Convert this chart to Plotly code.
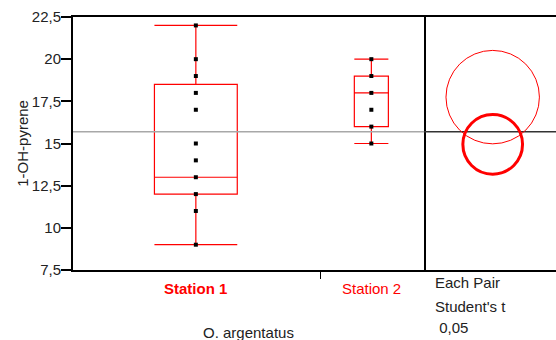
import plotly.graph_objects as go

# Observations per station (1-OH-pyrene)
station1_values = [22, 20, 19, 18, 17, 15, 14, 13, 12, 11, 9]
station2_values = [20, 19, 18, 17, 16, 15]

# Quantile box summaries: lower whisker, q1, median, q3, upper whisker
station1_box = [9, 12, 13, 18.5, 22]
station2_box = [15, 16, 18, 19, 20]

stations = ["Station 1", "Station 2"]
station_pos = [0.35, 0.85]      # group centres on the x axis
box_widths = [0.236, 0.097]     # group widths on the x axis
group_tick = [0.706]            # divider tick between groups

grand_mean = 15.7

# Comparison circles (Student's t, alpha 0.05): centre and radius
circle_means = [14.95, 17.75]
circle_radii = [1.77, 2.77]
circle_line_widths = [3, 1]

y_ticks = [7.5, 10, 12.5, 15, 17.5, 20, 22.5]
y_tick_text = ["7,5", "10", "12,5", "15", "17,5", "20", "22,5"]

FONT = "Liberation Sans, Arial, sans-serif"
RED = "#ff0000"
TXT = "#222222"
split = 351 / 483

fig = go.Figure()

for name, pos, w, box, vals in zip(stations, station_pos, box_widths,
                                   [station1_box, station2_box],
                                   [station1_values, station2_values]):
    fig.add_trace(go.Box(
        x=[pos], lowerfence=[box[0]], q1=[box[1]], median=[box[2]],
        q3=[box[3]], upperfence=[box[4]], width=w, whiskerwidth=1,
        fillcolor="rgba(0,0,0,0)", line=dict(color=RED, width=1.2),
        boxpoints=False, name=name, showlegend=False, hoverinfo="skip",
    ))
    fig.add_trace(go.Scatter(
        x=[pos] * len(vals), y=vals, mode="markers",
        marker=dict(symbol="square", size=4, color="black"),
        showlegend=False, hoverinfo="skip",
    ))

# Grand mean reference lines
fig.add_trace(go.Scatter(x=[0, 1], y=[grand_mean, grand_mean], mode="lines",
                         line=dict(color="#a8a8a8", width=1.5),
                         showlegend=False, hoverinfo="skip"))
fig.add_trace(go.Scatter(x=[-10, 10], y=[grand_mean, grand_mean], mode="lines",
                         line=dict(color="#333333", width=1.5),
                         xaxis="x2", yaxis="y2",
                         showlegend=False, hoverinfo="skip"))

for m, r, lw in zip(circle_means, circle_radii, circle_line_widths):
    fig.add_shape(type="circle", xref="x2", yref="y2",
                  x0=-r, x1=r, y0=m - r, y1=m + r,
                  line=dict(color=RED, width=lw))

# Station labels under the axis
for name, pos in zip(stations, station_pos):
    txt = f"<b>{name}</b>" if name == "Station 1" else name
    fig.add_annotation(x=pos, xref="x", y=-0.075, yref="paper", text=txt,
                       showarrow=False, yanchor="middle",
                       font=dict(family=FONT, size=15, color=RED))

for txt, yy in [("Each Pair", -0.051), ("Student's t", -0.146), (" 0,05", -0.229)]:
    fig.add_annotation(x=0.745, xref="paper", y=yy, yref="paper", text=txt,
                       showarrow=False, xanchor="left", yanchor="middle",
                       font=dict(family=FONT, size=15, color=TXT))

fig.add_annotation(x=split / 2, xref="paper", y=-0.249, yref="paper",
                   text="O. argentatus", showarrow=False, yanchor="middle",
                   font=dict(family=FONT, size=15, color=TXT))
fig.add_annotation(x=-0.105, xref="paper", y=0.5, yref="paper",
                   text="1-OH-pyrene", textangle=-90, showarrow=False,
                   xanchor="center", yanchor="middle",
                   font=dict(family=FONT, size=15, color=TXT))

px_per_unit = 253 / 15
pane_units = 132 / px_per_unit
centre_units = 68.7 / px_per_unit

fig.update_layout(
    width=556, height=340,
    margin=dict(l=73, r=0, t=17, b=70),
    plot_bgcolor="white", paper_bgcolor="white",
    font=dict(family=FONT, size=15, color=TXT),
    # box-plot pane
    xaxis=dict(domain=[0, split], range=[0, 1], showgrid=False,
               zeroline=False, showline=True, linecolor="black", linewidth=2,
               mirror=True, tickvals=group_tick, ticktext=[""],
               ticks="outside", ticklen=7, tickwidth=1, tickcolor="black"),
    yaxis=dict(range=[7.5, 22.5], tickvals=y_ticks, ticktext=y_tick_text,
               showgrid=False, zeroline=False, showline=True, mirror=True,
               linecolor="black", linewidth=2, ticks="outside", ticklen=10,
               tickwidth=2, tickcolor="black", ticklabelstandoff=-3,
               tickfont=dict(family=FONT, size=15, color=TXT)),
    # comparison-circle pane on the right
    xaxis2=dict(domain=[split, 1], anchor="y2",
                range=[-centre_units, pane_units - centre_units],
                showgrid=False, zeroline=False, showline=True, mirror=True,
                linecolor="black", linewidth=2,
                showticklabels=False, ticks=""),
    yaxis2=dict(anchor="x2", domain=[0, 1], matches="y",
                showgrid=False, zeroline=False, showline=False,
                showticklabels=False, ticks=""),
)

fig.write_html("out.html")
